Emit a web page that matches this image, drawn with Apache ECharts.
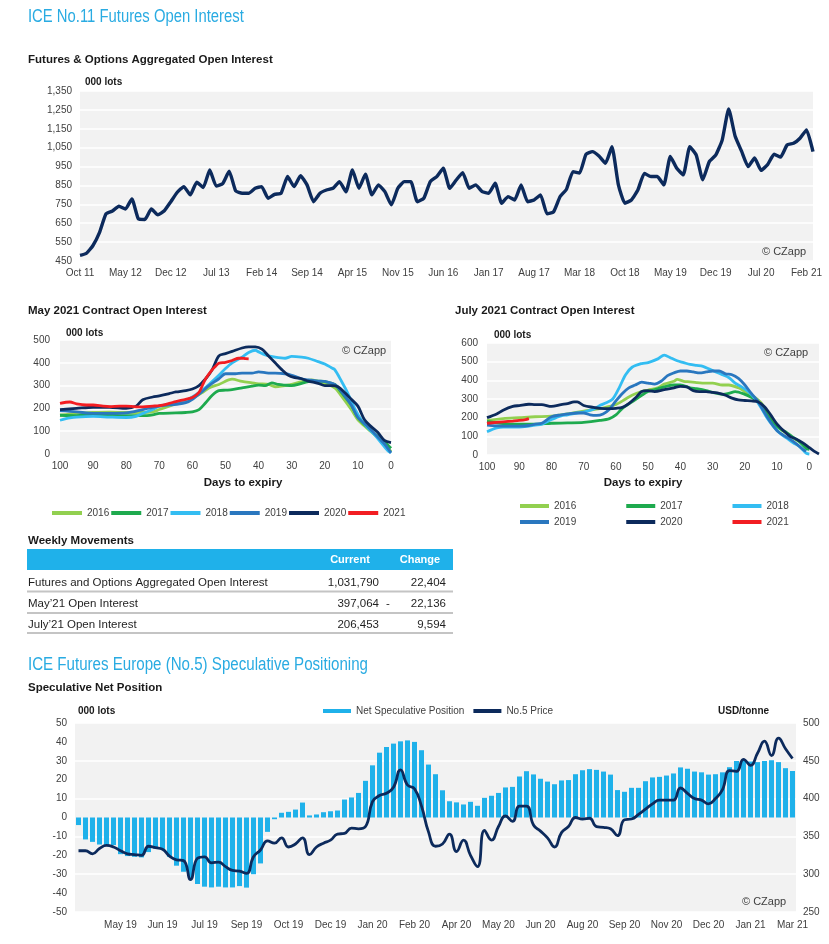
<!DOCTYPE html>
<html><head><meta charset="utf-8">
<script src="https://cdn.jsdelivr.net/npm/echarts@6/dist/echarts.min.js"></script>
<style>html,body{margin:0;padding:0;background:#fff;}#c{width:829px;height:944px;}</style>
</head><body><div id="c"></div>
<script>
const FONT = '"Liberation Sans", Arial, Helvetica, sans-serif';
const MONTHS = ['Jan','Feb','Mar','Apr','May','Jun','Jul','Aug','Sep','Oct','Nov','Dec'];

// ---- Futures & Options Aggregated Open Interest (000 lots), monthly Oct 11 .. Mar 21
const oiMonths = [];
for (let y = 2011, m = 9; y < 2021 || (y === 2021 && m <= 2);) {
  oiMonths.push(MONTHS[m] + ' ' + String(y).slice(2));
  m++; if (m === 12) { m = 0; y++; }
}
const oiValues = [480,491,532,600,700,715,740,725,779,673,
  670,726,694,716,764,814,844,800,867,839,
  932,847,860,925,821,809,809,835,844,782,
  803,809,897,844,902,853,764,809,826,835,
  870,817,932,835,909,800,853,817,747,835,
  870,870,764,782,870,897,941,835,879,918,
  835,853,817,809,862,756,791,773,853,764,
  773,800,700,710,790,830,923,915,1015,1029,
  1006,967,1055,853,756,773,826,914,897,897,
  853,1003,941,906,1055,1011,880,975,1010,1090,
  1255,1110,1030,950,995,930,960,1015,1000,1064,
  1073,1100,1144,1029];

// ---- May 2021 contract open interest: [days to expiry, 000 lots]
const may2016 = [[100,170],[95,178],[90,182],[85,184],[80,182],[75,182],[72,185],[70,195],[67,210],[65,220],[60,245],[57,270],[55,290],[52,305],[48,328],[45,318],[42,312],[40,308],[37,305],[35,295],[32,300],[30,305],[27,318],[24,325],[22,318],[20,310],[17,290],[15,255],[12,195],[10,150],[7,110],[5,85],[2,45],[0,10]];
const may2017 = [[100,170],[95,168],[90,172],[85,170],[80,168],[75,168],[72,172],[70,178],[65,180],[62,182],[60,185],[58,195],[56,225],[54,258],[52,278],[50,280],[48,282],[45,290],[42,298],[40,302],[38,300],[36,312],[34,305],[32,302],[30,300],[28,305],[25,318],[22,320],[20,318],[17,305],[15,270],[12,215],[10,160],[7,115],[5,90],[2,55],[0,25]];
const may2018 = [[100,148],[97,158],[95,162],[90,165],[85,162],[80,160],[77,165],[75,178],[72,195],[70,210],[67,218],[65,222],[62,235],[60,250],[57,280],[55,305],[52,345],[50,375],[48,400],[45,425],[43,445],[41,455],[40,448],[38,435],[35,425],[32,420],[30,428],[27,425],[25,420],[22,405],[20,395],[18,378],[17,370],[15,320],[13,265],[11,200],[9,150],[7,115],[5,85],[3,50],[1,15],[0,5]];
const may2019 = [[100,190],[95,185],[90,178],[85,178],[80,180],[75,195],[72,205],[70,210],[67,215],[65,218],[62,225],[60,240],[57,275],[55,300],[52,330],[50,352],[47,352],[45,355],[42,355],[40,360],[37,355],[35,355],[32,352],[30,345],[27,330],[25,325],[22,320],[20,318],[17,305],[15,275],[12,215],[10,160],[7,120],[5,90],[2,45],[0,5]];
const may2020 = [[100,195],[95,200],[90,205],[85,205],[80,200],[77,210],[75,238],[72,250],[70,255],[67,265],[65,272],[62,278],[60,285],[58,300],[56,330],[54,370],[52,430],[50,440],[48,450],[45,465],[43,470],[41,470],[39,460],[37,430],[35,400],[33,370],[31,345],[29,335],[27,330],[25,320],[22,310],[20,300],[18,300],[16,295],[14,270],[12,240],[10,210],[8,150],[6,120],[4,95],[2,60],[0,50]];
const may2021 = [[100,222],[97,228],[95,220],[92,215],[90,215],[87,210],[85,208],[82,210],[80,210],[77,207],[75,207],[72,210],[70,212],[67,222],[65,230],[62,240],[60,248],[58,270],[57,300],[56,330],[54,370],[53,385],[52,398],[50,402],[48,410],[46,420],[45,420],[44,418],[43,417]];

// ---- July 2021 contract open interest
const jul2016 = [[100,185],[95,195],[90,200],[85,205],[80,208],[75,220],[70,235],[65,248],[62,260],[60,270],[57,300],[55,320],[52,340],[50,348],[47,360],[45,380],[42,395],[41,405],[39,395],[37,392],[35,388],[32,385],[30,385],[27,375],[25,375],[22,360],[20,340],[17,310],[15,280],[13,230],[11,175],[9,140],[7,115],[5,90],[3,70],[1,45],[0,30]];
const jul2017 = [[100,180],[95,168],[90,165],[85,165],[80,170],[75,172],[70,175],[65,185],[62,195],[60,215],[58,250],[55,285],[52,320],[50,340],[47,355],[45,365],[42,375],[40,375],[37,360],[35,355],[32,345],[30,335],[27,325],[25,330],[23,340],[20,325],[17,300],[15,265],[13,215],[11,165],[9,140],[7,120],[5,95],[3,70],[1,35],[0,30]];
const jul2018 = [[100,125],[97,145],[95,150],[90,150],[87,155],[85,160],[83,165],[80,190],[77,210],[75,215],[72,225],[70,230],[67,245],[65,265],[63,280],[61,300],[59,360],[57,430],[55,470],[52,490],[50,495],[47,515],[45,535],[43,520],[41,505],[39,495],[37,485],[35,480],[33,475],[31,460],[29,445],[27,430],[25,415],[23,385],[21,365],[19,340],[17,305],[15,255],[13,195],[11,150],[9,115],[7,90],[5,65],[3,45],[1,10],[0,5]];
const jul2019 = [[100,160],[95,155],[90,155],[87,158],[85,165],[83,170],[80,205],[77,215],[75,220],[72,225],[70,225],[68,215],[66,212],[64,220],[62,245],[60,290],[58,330],[56,360],[54,375],[52,390],[50,385],[48,380],[46,395],[44,425],[42,440],[40,450],[38,450],[36,445],[34,440],[32,445],[30,450],[28,450],[26,435],[24,430],[22,410],[20,375],[18,330],[16,290],[14,230],[12,175],[10,130],[8,105],[6,85],[4,60],[2,30],[1,20]];
const jul2020 = [[100,200],[97,220],[95,240],[92,260],[90,265],[87,272],[85,270],[83,270],[80,260],[77,270],[75,275],[73,285],[72,285],[70,265],[67,255],[65,250],[62,248],[60,250],[58,255],[56,275],[54,305],[52,340],[50,345],[48,340],[45,350],[42,360],[40,368],[38,365],[36,345],[34,340],[32,340],[30,335],[28,330],[26,320],[24,305],[22,295],[20,292],[18,290],[16,285],[14,260],[12,215],[10,165],[8,130],[6,100],[4,85],[2,65],[0,40],[-2,15],[-3,5]];
const jul2021 = [[100,170],[97,175],[95,178],[92,182],[90,185],[88,190],[87,195]];

// ---- Weekly movements table
const tableLabels = ['Futures and Options Aggregated Open Interest', 'May\u201921 Open Interest', 'July\u201921 Open Interest'];
const tableCurrent = [1031790, 397064, 206453];
const tableChange = [22404, -22136, 9594];

// ---- ICE No.5 speculative positioning (weekly)
const specWeeks = ['2019-03-26','2019-04-02','2019-04-09','2019-04-16','2019-04-23','2019-04-30','2019-05-07','2019-05-14','2019-05-21','2019-05-28','2019-06-04','2019-06-11','2019-06-18','2019-06-25','2019-07-02','2019-07-09','2019-07-16','2019-07-23','2019-07-30','2019-08-06','2019-08-13','2019-08-20','2019-08-27','2019-09-03','2019-09-10','2019-09-17','2019-09-24','2019-10-01','2019-10-08','2019-10-15','2019-10-22','2019-10-29','2019-11-05','2019-11-12','2019-11-19','2019-11-26','2019-12-03','2019-12-10','2019-12-17','2019-12-24','2019-12-31',
'2020-01-07','2020-01-14','2020-01-21','2020-01-28','2020-02-04','2020-02-11','2020-02-18','2020-02-25','2020-03-03','2020-03-10','2020-03-17','2020-03-24','2020-03-31','2020-04-07','2020-04-14','2020-04-21','2020-04-28','2020-05-05','2020-05-12','2020-05-19','2020-05-26','2020-06-02','2020-06-09','2020-06-16','2020-06-23','2020-06-30','2020-07-07','2020-07-14','2020-07-21','2020-07-28','2020-08-04','2020-08-11','2020-08-18','2020-08-25','2020-09-01','2020-09-08','2020-09-15','2020-09-22','2020-09-29','2020-10-06','2020-10-13','2020-10-20','2020-10-27','2020-11-03','2020-11-10','2020-11-17','2020-11-24','2020-12-01','2020-12-08','2020-12-15','2020-12-22','2020-12-29',
'2021-01-05','2021-01-12','2021-01-19','2021-01-26','2021-02-02','2021-02-09','2021-02-16','2021-02-23','2021-03-02','2021-03-09'];
const specNet = [-4,-11.6,-12.9,-14.3,-15,-14.6,-19.4,-20.4,-20.8,-21.1,
  -18.3,-16.4,-16.9,-20.8,-25.5,-28.7,-32.6,-35.2,-36.6,-37,
  -36.6,-37,-37,-36.3,-37.1,-30,-24.3,-7.6,-0.9,2.5,
  3,4.2,7.9,1.1,1.6,2.8,3.3,3.7,9.5,10.6,
  13,19.4,27.6,34.3,37.3,39.1,40.3,40.8,40,35.6,
  28,22.9,14.4,8.6,8,6.9,8.3,6.2,10.4,11.5,
  13,15.9,16.2,21.7,24.5,22.8,20.5,19,17.6,19.6,
  19.8,22.9,25,25.6,25.2,24.3,22.7,14.5,13.6,15.7,
  15.7,19.2,21.2,21.5,22.2,23.3,26.5,25.8,24.3,23.9,
  22.7,22.9,23.9,26.6,29.9,30.7,29.6,29.3,29.9,30.3,
  29.3,26.1,24.6];
const no5Price = [331,331,327,334,338,336,331,327,326,325,
  337,335,333,324,319,318,293,321,323,315,
  316,310,305,304,301,323,332,344,341,348,
  336,340,348,326,336,341,345,353,354,361,
  360,363,396,404,407,415,438,418,413,390,
  356,337,340,353,330,345,325,310,358,345,
  363,377,370,390,390,365,357,348,336,355,
  363,375,373,374,363,362,360,351,372,373,
  379,386,393,398,398,398,414,407,400,398,
  393,400,412,437,436,452,444,460,476,457,
  480,466,453];

// ---------------- styling helpers ----------------
const TXT = '#404040';
const NAVY = '#0c2a5c';
const COLORS = {'2016':'#92d050','2017':'#1eaa4e','2018':'#33bdf2','2019':'#2a77bf','2020':'#0c2a5c','2021':'#f21d22'};
function T(x, y, text, size, opt) {
  opt = opt || {};
  return { type:'text', x:x, y:y, silent:true, scaleX: opt.scaleX || 1, z: 100,
    style:{ text:text, fill: opt.fill || TXT, align: opt.align || 'left', verticalAlign:'middle',
      font: (opt.bold ? 'bold ' : '') + size + 'px ' + FONT } };
}
const fmt = v => Number(v).toLocaleString('en-US');
const axisLbl = (extra) => Object.assign({ color: TXT, fontSize: 10, fontFamily: FONT }, extra || {});
const splitW = { show:true, lineStyle:{ color:'#ffffff', width:1.5 } };
const noLine = { show:false };

const grids = [
  { left:80, top:91, width:733, height:170 },
  { left:60, top:340, width:331, height:114 },
  { left:487, top:343, width:332, height:112 },
  { left:75, top:723, width:721, height:189 }
].map(g => Object.assign(g, { show:true, backgroundColor:'#f2f2f2', borderWidth:0, containLabel:false }));

const xAxes = [
  { type:'category', gridIndex:0, data: oiMonths, boundaryGap:false, axisLine:noLine, axisTick:noLine,
    axisLabel: axisLbl({ margin:7, interval:(i) => i % 7 === 0 }), splitLine:noLine },
  { type:'value', gridIndex:1, min:0, max:100, interval:10, inverse:true, axisLine:noLine, axisTick:noLine,
    axisLabel: axisLbl({ margin:7, fontSize:10 }), splitLine:noLine },
  { type:'value', gridIndex:2, min:-3, max:100, splitNumber:10, inverse:true, axisLine:noLine, axisTick:noLine,
    axisLabel: axisLbl({ margin:7, customValues:[0,10,20,30,40,50,60,70,80,90,100], formatter:(v)=> v < 0 ? '' : String(v) }), splitLine:noLine },
  { type:'category', gridIndex:3, data: specWeeks, boundaryGap:true, axisLine:noLine, axisTick:noLine,
    axisLabel: axisLbl({ margin:8, interval:(i) => i % 6 === 0 && i > 0,
      formatter:(v) => { const p = v.split('-'); return MONTHS[+p[1]-1] + ' ' + p[0].slice(2); } }), splitLine:noLine }
];
const yAxes = [
  { type:'value', gridIndex:0, min:450, max:1350, interval:100, axisLine:noLine, axisTick:noLine,
    axisLabel: axisLbl({ margin:8, formatter: fmt }), splitLine: splitW },
  { type:'value', gridIndex:1, min:0, max:500, interval:100, axisLine:noLine, axisTick:noLine,
    axisLabel: axisLbl({ margin:10 }), splitLine: splitW },
  { type:'value', gridIndex:2, min:0, max:600, interval:100, axisLine:noLine, axisTick:noLine,
    axisLabel: axisLbl({ margin:9 }), splitLine: splitW },
  { type:'value', gridIndex:3, min:-50, max:50, interval:10, axisLine:noLine, axisTick:noLine,
    axisLabel: axisLbl({ margin:8 }), splitLine: noLine },
  { type:'value', gridIndex:3, position:'right', min:250, max:500, interval:50, axisLine:noLine, axisTick:noLine,
    axisLabel: axisLbl({ margin:7 }), splitLine: splitW }
];

function lineSeries(name, data, xi, yi, color, width, smooth) {
  return { type:'line', name:name, data:data, xAxisIndex:xi, yAxisIndex:yi, showSymbol:false, symbol:'none',
    smooth: smooth, color: color, itemStyle:{ color: color }, lineStyle:{ color: color, width: width }, z: 3 };
}
const series = [
  lineSeries('F&O OI', oiValues, 0, 0, NAVY, 3.4, 0.15),
  lineSeries('2016', may2016, 1, 1, COLORS['2016'], 2.8, 0.3),
  lineSeries('2017', may2017, 1, 1, COLORS['2017'], 2.8, 0.3),
  lineSeries('2018', may2018, 1, 1, COLORS['2018'], 2.8, 0.3),
  lineSeries('2019', may2019, 1, 1, COLORS['2019'], 2.8, 0.3),
  lineSeries('2020', may2020, 1, 1, COLORS['2020'], 2.8, 0.3),
  lineSeries('2021', may2021, 1, 1, COLORS['2021'], 2.8, 0.3),
  lineSeries('2016', jul2016, 2, 2, COLORS['2016'], 2.8, 0.3),
  lineSeries('2017', jul2017, 2, 2, COLORS['2017'], 2.8, 0.3),
  lineSeries('2018', jul2018, 2, 2, COLORS['2018'], 2.8, 0.3),
  lineSeries('2019', jul2019, 2, 2, COLORS['2019'], 2.8, 0.3),
  lineSeries('2020', jul2020, 2, 2, COLORS['2020'], 2.8, 0.3),
  lineSeries('2021', jul2021, 2, 2, COLORS['2021'], 2.8, 0.3),
  { type:'bar', name:'Net Speculative Position', data: specNet, xAxisIndex:3, yAxisIndex:3, barWidth:5,
    color:'#1fb1ea', itemStyle:{ color:'#1fb1ea' }, z:2 },
  lineSeries('No.5 Price', no5Price, 3, 4, NAVY, 2.8, 0.5)
];

const legendBase = { icon:'rect', itemHeight:4, padding:0, selectedMode:false,
  textStyle:{ color: TXT, fontSize:10, fontFamily: FONT } };
const legends = [
  Object.assign({}, legendBase, { data:['2016','2017','2018','2019','2020','2021'], left:52, top:508, itemWidth:30, itemGap:2 }),
  Object.assign({}, legendBase, { data:['2016','2017','2018'], left:520, top:501, itemWidth:29, itemGap:50 }),
  Object.assign({}, legendBase, { data:['2019','2020','2021'], left:520, top:517, itemWidth:29, itemGap:50 }),
  Object.assign({}, legendBase, { data:['Net Speculative Position','No.5 Price'], left:323, top:706, itemWidth:28, itemGap:9 })
];

// ---- texts and table as graphics
const g = [];
g.push(T(28, 17, 'ICE No.11 Futures Open Interest', 17.5, { fill:'#29abe2', scaleX:0.848 }));
g.push(T(28, 60, 'Futures & Options Aggregated Open Interest', 11.5, { bold:true, fill:'#1a1a1a' }));
g.push(T(85, 82, '000 lots', 10, { bold:true, fill:'#1a1a1a' }));
g.push(T(762, 252, '\u00a9 CZapp', 11, {}));

g.push(T(28, 311, 'May 2021 Contract Open Interest', 11.5, { bold:true, fill:'#1a1a1a' }));
g.push(T(66, 333, '000 lots', 10, { bold:true, fill:'#1a1a1a' }));
g.push(T(342, 351, '\u00a9 CZapp', 11, {}));
g.push(T(243, 483, 'Days to expiry', 11.5, { bold:true, fill:'#1a1a1a', align:'center' }));

g.push(T(455, 311, 'July 2021 Contract Open Interest', 11.5, { bold:true, fill:'#1a1a1a' }));
g.push(T(494, 335, '000 lots', 10, { bold:true, fill:'#1a1a1a' }));
g.push(T(764, 353, '\u00a9 CZapp', 11, {}));
g.push(T(643, 483, 'Days to expiry', 11.5, { bold:true, fill:'#1a1a1a', align:'center' }));

g.push(T(28, 541, 'Weekly Movements', 11.5, { bold:true, fill:'#1a1a1a' }));
g.push({ type:'rect', silent:true, shape:{ x:27, y:549, width:426, height:21 }, style:{ fill:'#1fb1ea' } });
g.push(T(350, 560, 'Current', 11, { bold:true, fill:'#ffffff', align:'center' }));
g.push(T(420, 560, 'Change', 11, { bold:true, fill:'#ffffff', align:'center' }));
const rowY = [583, 604, 625];
const lineY = [591.5, 613, 633];
for (let i = 0; i < tableLabels.length; i++) {
  g.push(T(28, rowY[i], tableLabels[i], 11.5, { fill:'#1f1f1f' }));
  g.push(T(379, rowY[i], fmt(tableCurrent[i]), 11.5, { fill:'#1f1f1f', align:'right' }));
  if (tableChange[i] < 0) g.push(T(386, rowY[i], '-', 11.5, { fill:'#1f1f1f' }));
  g.push(T(446, rowY[i], fmt(Math.abs(tableChange[i])), 11.5, { fill:'#1f1f1f', align:'right' }));
  g.push({ type:'line', silent:true, shape:{ x1:27, y1:lineY[i], x2:453, y2:lineY[i] }, style:{ stroke:'#c4c4c4', lineWidth:2 } });
}

g.push(T(28, 665, 'ICE Futures Europe (No.5) Speculative Positioning', 17.5, { fill:'#29abe2', scaleX:0.863 }));
g.push(T(28, 688, 'Speculative Net Position', 11.5, { bold:true, fill:'#1a1a1a' }));
g.push(T(78, 711, '000 lots', 10, { bold:true, fill:'#1a1a1a' }));
g.push(T(718, 711, 'USD/tonne', 10, { bold:true, fill:'#1a1a1a' }));
g.push(T(742, 902, '\u00a9 CZapp', 11, {}));

const chart = echarts.init(document.getElementById('c'), null, { renderer:'canvas' });
chart.setOption({
  animation:false,
  backgroundColor:'#ffffff',
  textStyle:{ fontFamily: FONT },
  grid: grids, xAxis: xAxes, yAxis: yAxes, legend: legends, series: series,
  graphic: { elements: g }
});
</script></body></html>
